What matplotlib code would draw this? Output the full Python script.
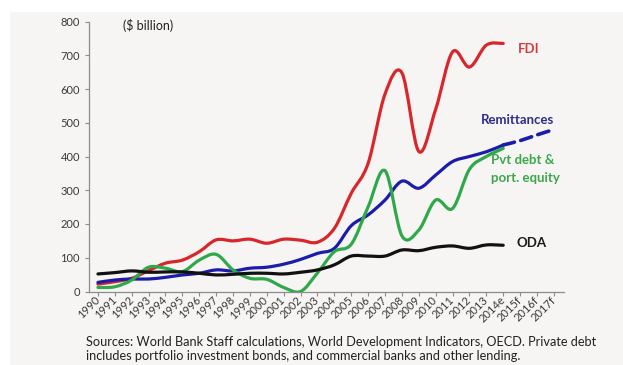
import numpy as np
import matplotlib
matplotlib.use("Agg")
import matplotlib.pyplot as plt
from matplotlib.path import Path
from matplotlib.patches import PathPatch, Rectangle

plt.rcParams['font.family'] = ['Lato', 'DejaVu Sans']

# categories
years = ['1990', '1991', '1992', '1993', '1994', '1995', '1996', '1997', '1998', '1999',
         '2000', '2001', '2002', '2003', '2004', '2005', '2006', '2007', '2008', '2009',
         '2010', '2011', '2012', '2013', '2014e', '2015f', '2016f', '2017f']

# $ billion, 1990 .. 2014e
fdi = [22, 29, 39, 62, 84, 93, 118, 153, 150, 155, 143, 155, 152, 146, 187, 291, 380,
       585, 648, 415, 540, 710, 665, 730, 735]
remittances = [27, 34, 37, 37, 42, 49, 54, 64, 61, 69, 72, 81, 95, 113, 128, 195, 227,
               271, 327, 306, 345, 385, 400, 414, 434]
remit_forecast = [434, 447, 464, 480]  # 2014e .. 2017f
pvt_debt = [12, 14, 34, 72, 69, 59, 93, 110, 64, 39, 36, 12, 0, 55, 118, 140, 251,
            358, 165, 182, 271, 246, 362, 400, 424]
oda = [52, 56, 61, 57, 58, 58, 54, 49, 51, 54, 54, 52, 57, 64, 79, 105, 105, 105, 123,
       121, 131, 135, 128, 138, 137]


def smooth_path(xs, ys):
    # Catmull-Rom style smoothing (like Excel's "smoothed line") as cubic Beziers
    pts = np.column_stack([xs, ys]).astype(float)
    n = len(pts)
    verts = [pts[0]]
    codes = [Path.MOVETO]
    for i in range(n - 1):
        p0 = pts[i - 1] if i > 0 else pts[i]
        p1 = pts[i]
        p2 = pts[i + 1]
        p3 = pts[i + 2] if i + 2 < n else pts[i + 1]
        verts += [p1 + (p2 - p0) / 6.0, p2 - (p3 - p1) / 6.0, p2]
        codes += [Path.CURVE4] * 3
    return Path(verts, codes)


def add_line(ax, xs, ys, color, lw=2.3, ls='-'):
    patch = PathPatch(smooth_path(xs, ys), fill=False, edgecolor=color, lw=lw,
                      linestyle=ls, capstyle='round', joinstyle='round')
    ax.add_patch(patch)


fig = plt.figure(figsize=(6.23, 3.65), dpi=100)
fig.patch.set_facecolor('#f7f5f3')
# white border strips of the screenshot
fig.patches.append(Rectangle((0, 1 - 11 / 365), 1, 11 / 365, transform=fig.transFigure,
                             color='white', zorder=0))
fig.patches.append(Rectangle((0, 0), 9 / 623, 1, transform=fig.transFigure,
                             color='white', zorder=0))

ax = fig.add_axes([89 / 623, 1 - 291.5 / 365, (564 - 89) / 623, 270 / 365])
ax.set_facecolor('none')

x = np.arange(len(fdi))
red = '#d8262b'
blue = '#1c1cab'
green = '#2fa84a'

add_line(ax, x, fdi, red)
add_line(ax, x, remittances, blue)
add_line(ax, np.arange(len(remit_forecast)) + len(remittances) - 1, remit_forecast,
         blue, lw=2.6, ls=(0, (3.2, 1.8)))
add_line(ax, x, pvt_debt, green)
add_line(ax, x, oda, '#111111')

ax.set_xlim(-0.53, 27.6)
ax.set_ylim(0, 800)
ax.set_yticks(range(0, 801, 100))
ax.set_xticks(range(len(years)))
ax.set_xticklabels(years, rotation=45, ha='right', va='center', rotation_mode='anchor')

for s in ['top', 'right']:
    ax.spines[s].set_visible(False)
for s in ['left', 'bottom']:
    ax.spines[s].set_color('#8c8c8c')
    ax.spines[s].set_linewidth(0.9)
ax.tick_params(axis='both', colors='#8c8c8c', labelcolor='#3a3a3a', labelsize=8,
               length=3, width=0.8)
ax.tick_params(axis='x', pad=2)

# series labels
ax.text(24.85, 718, 'FDI', color='#d63a3c', fontsize=9.5, fontweight='bold', va='center')
ax.text(22.66, 508, 'Remittances', color='#2e2e8c', fontsize=9.5, fontweight='bold',
        va='center')
ax.text(23.3, 390, 'Pvt debt &', color='#3aa84a', fontsize=9.5, fontweight='bold',
        va='center')
ax.text(23.3, 337, 'port. equity', color='#3aa84a', fontsize=9.5, fontweight='bold',
        va='center')
ax.text(24.8, 144, 'ODA', color='#1a1a1a', fontsize=9.5, fontweight='bold', va='center')

fig.text(123 / 623, 1 - 26 / 365, '($ billion)', color='#222222', fontsize=9, va='center')

fig.text(86 / 623, 1 - 342 / 365,
         'Sources: World Bank Staff calculations, World Development Indicators, OECD. '
         'Private debt', color='#222222', fontsize=9.2, va='center')
fig.text(86 / 623, 1 - 356 / 365,
         'includes portfolio investment bonds, and commercial banks and other lending.',
         color='#222222', fontsize=9.2, va='center')

fig.savefig('out.png', dpi=100, facecolor=fig.get_facecolor())
